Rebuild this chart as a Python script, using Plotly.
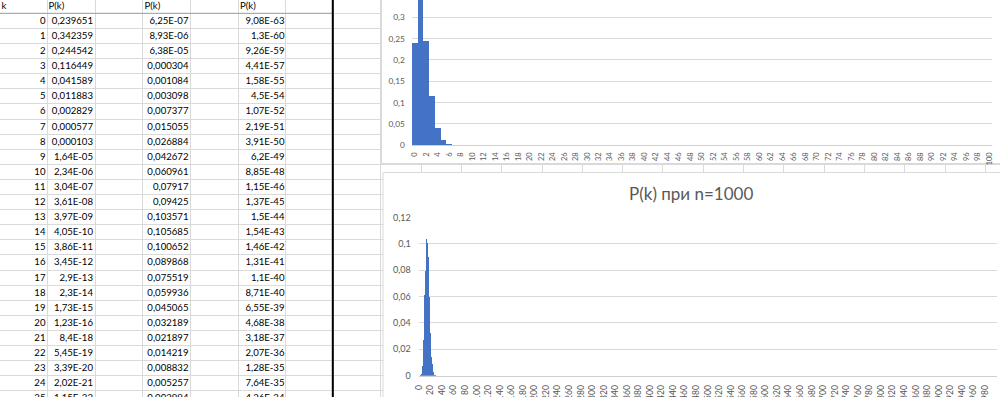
import plotly.graph_objects as go

# ---------------- data ----------------
k_values = list(range(26))
p_n100 = [0.239651, 0.342359, 0.244542, 0.116449, 0.041589, 0.011883, 0.002829,
          0.000577, 0.000103, 1.64e-05, 2.34e-06, 3.04e-07, 3.61e-08, 3.97e-09,
          4.05e-10, 3.86e-11, 3.45e-12, 2.9e-13, 2.3e-14, 1.73e-15, 1.23e-16,
          8.4e-18, 5.45e-19, 3.39e-20, 2.02e-21, 1.15e-22]
p_n1000 = [6.25e-07, 8.93e-06, 6.38e-05, 0.000304, 0.001084, 0.003098, 0.007377,
           0.015055, 0.026884, 0.042672, 0.060961, 0.07917, 0.09425, 0.103571,
           0.105685, 0.100652, 0.089868, 0.075519, 0.059936, 0.045065, 0.032189,
           0.021897, 0.014219, 0.008832, 0.005257, 0.002994]
# barely visible tail of the n=1000 chart (k = 26..30), estimated
p_n1000_tail = [0.00162, 0.00085, 0.00043, 0.00021, 0.0001]
p_col3 = [9.08e-63, 1.3e-60, 9.26e-59, 4.41e-57, 1.58e-55, 4.5e-54, 1.07e-52,
          2.19e-51, 3.91e-50, 6.2e-49, 8.85e-48, 1.15e-46, 1.37e-45, 1.5e-44,
          1.54e-43, 1.46e-42, 1.31e-41, 1.1e-40, 8.71e-40, 6.55e-39, 4.68e-38,
          3.18e-37, 2.07e-36, 1.28e-35, 7.64e-35, 4.26e-34]
headers = ["k", "P(k)", "P(k)", "P(k)"]
chart_title = "P(k) при n=1000"


def excel_general(v):
    if v >= 1e-4:
        s = f"{v:.6f}".rstrip("0").rstrip(".")
    else:
        m, e = f"{v:.2e}".split("e")
        m = m.rstrip("0").rstrip(".")
        s = f"{m}E{e[0]}{e[1:].zfill(2)}"
    return s.replace(".", ",")


W, H = 1000, 397
FONT = "Lato"
GRAY_TXT = "#595959"

# spreadsheet geometry (pixels)
col_w = 47.6
col_lines = [col_w * i for i in range(1, 9)]
col_lines += [col_lines[-1] + 40.3 * j for j in range(1, 16)]
row_top = 13.3
row_h = 15.1
row_lines = [row_top + row_h * i for i in range(0, 27)]
row_center = [row_top + 8.2 + row_h * i for i in range(len(k_values))]

fig = go.Figure()

# ---------------- spreadsheet text ----------------
tx, ty, tt, tp = [], [], [], []
for lbl, xh in zip(headers, [1.5, 48.5, 144.5, 240]):
    tx.append(xh); ty.append(6.8); tt.append(lbl); tp.append("middle right")
for col_vals, xr, fmt in [(k_values, 45.5, str), (p_n100, 93, excel_general),
                          (p_n1000, 188.5, excel_general), (p_col3, 284.5, excel_general)]:
    for i, v in enumerate(col_vals):
        tx.append(xr); ty.append(row_center[i]); tt.append(fmt(v)); tp.append("middle left")

fig.add_trace(go.Scatter(x=tx, y=ty, text=tt, mode="text", textposition=tp,
                         textfont=dict(family=FONT, size=9.6, color="#000000"),
                         xaxis="x", yaxis="y", hoverinfo="skip", showlegend=False))

# ---------------- charts ----------------
fig.add_trace(go.Bar(x=list(range(len(p_n100))), y=p_n100, width=1,
                     marker=dict(color="#4472C4", line=dict(width=0)),
                     xaxis="x2", yaxis="y2", showlegend=False))
p_big = p_n1000 + p_n1000_tail
fig.add_trace(go.Bar(x=list(range(len(p_big))), y=p_big, width=1,
                     marker=dict(color="#4472C4", line=dict(width=0)),
                     xaxis="x3", yaxis="y3", showlegend=False))

shapes = [
    # chart areas (white, covering the sheet grid)
    dict(type="rect", xref="x", yref="y", x0=381.5, x1=1005, y0=-5, y1=163.5,
         fillcolor="white", line=dict(color="#d9d9d9", width=1), layer="between"),
    dict(type="rect", xref="x", yref="y", x0=383, x1=1005, y0=172.5, y1=402,
         fillcolor="white", line=dict(color="#d9d9d9", width=1), layer="between"),
    # header bottom border
    dict(type="line", xref="x", yref="y", x0=0, x1=332, y0=row_top, y1=row_top,
         line=dict(color="#a0a0a0", width=1), layer="between"),
    # thick border
    dict(type="line", xref="paper", yref="paper", x0=332.8 / W, x1=332.8 / W, y0=0, y1=1,
         line=dict(color="#000000", width=2), layer="above"),
]

fig.update_layout(
    width=W, height=H, margin=dict(l=0, r=0, t=0, b=0),
    paper_bgcolor="white", plot_bgcolor="white",
    separators=", ", bargap=0, showlegend=False,
    font=dict(family=FONT, color=GRAY_TXT),
    xaxis=dict(domain=[0, 1], range=[0, W], tickvals=col_lines, showticklabels=False,
               showgrid=True, gridcolor="#dadada", gridwidth=1, zeroline=False,
               showline=False, ticks="", fixedrange=True),
    yaxis=dict(domain=[0, 1], range=[H, 0], tickvals=row_lines, showticklabels=False,
               showgrid=True, gridcolor="#dadada", gridwidth=1, zeroline=False,
               showline=False, ticks="", fixedrange=True),
    xaxis2=dict(domain=[411.8 / W, 992.2 / W], anchor="y2", range=[-0.5, 100.5],
                tickmode="linear", tick0=0, dtick=2, tickangle=-90,
                tickfont=dict(family=FONT, size=7.5, color=GRAY_TXT),
                showgrid=False, showline=True, linecolor="#d0d0d0", zeroline=False,
                ticks="", ticklabelstandoff=3, automargin=False),
    yaxis2=dict(domain=[1 - 145.3 / H, 1], anchor="x2", range=[0, 0.3406],
                tickmode="linear", tick0=0, dtick=0.05,
                tickfont=dict(family=FONT, size=8.3, color=GRAY_TXT),
                showgrid=True, gridcolor="#d9d9d9", showline=False, zeroline=False,
                ticks="", ticklabelstandoff=6, automargin=False),
    xaxis3=dict(domain=[418.7 / W, 997 / W], anchor="y3", range=[-0.5, 1000.5],
                tickmode="linear", tick0=0, dtick=20, tickangle=-90,
                tickfont=dict(family=FONT, size=8.5, color=GRAY_TXT),
                showgrid=False, showline=True, linecolor="#d0d0d0", zeroline=False,
                ticks="", ticklabelstandoff=5, automargin=False),
    yaxis3=dict(domain=[(H - 375.7) / H, (H - 217.3) / H], anchor="x3", range=[0, 0.1202],
                tickmode="linear", tick0=0, dtick=0.02,
                tickfont=dict(family=FONT, size=9, color=GRAY_TXT),
                showgrid=True, gridcolor="#d9d9d9", showline=False, zeroline=False,
                ticks="", ticklabelstandoff=7, automargin=False),
    shapes=shapes,
    annotations=[dict(text=chart_title, xref="paper", yref="paper",
                      x=691.3 / W, y=1 - 193.3 / H, xanchor="center", yanchor="middle",
                      showarrow=False, font=dict(family=FONT, size=17, color=GRAY_TXT))],
)

fig.write_html(
    "out.html",
    config={"displayModeBar": False, "staticPlot": True},
    post_script="document.body.style.margin='0px';"
                "document.documentElement.style.overflow='hidden';"
                "document.body.style.overflow='hidden';",
)
